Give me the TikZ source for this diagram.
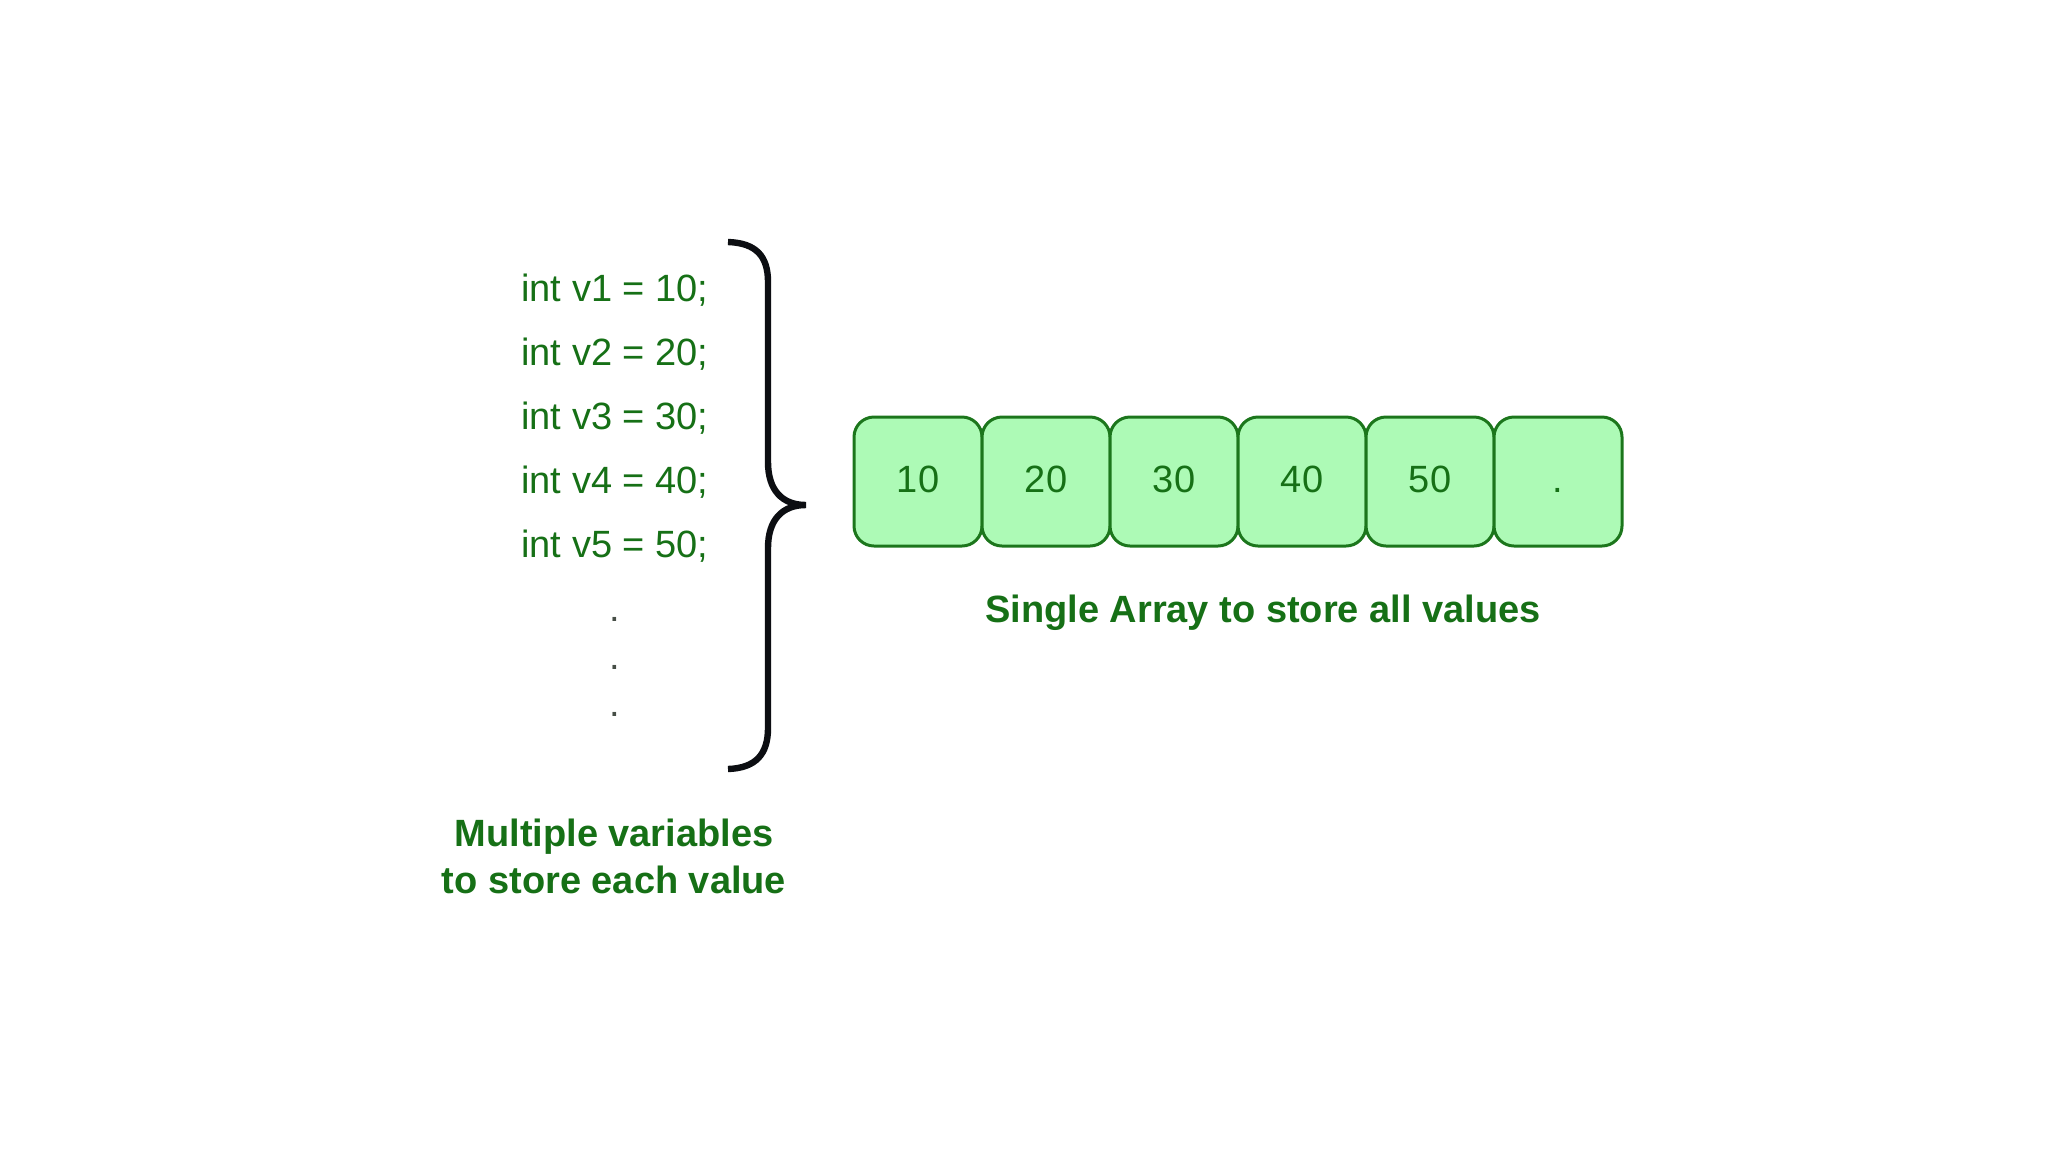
\documentclass[tikz,border=0pt]{standalone}
\usepackage{fontspec}
\setmainfont{Liberation Sans}
\usetikzlibrary{positioning}
\definecolor{ink}{RGB}{12,14,18}
\definecolor{codegreen}{RGB}{22,112,22}
\definecolor{cellfill}{RGB}{173,250,182}
\definecolor{celledge}{RGB}{28,118,28}
\definecolor{dotgray}{RGB}{70,78,70}

\begin{document}
\begin{tikzpicture}[x=0.5pt,y=-0.5pt,
    cell/.style={draw=celledge,fill=cellfill,line width=1.5pt,
      rounded corners=10pt,minimum width=64pt,minimum height=64.5pt,
      outer sep=0pt,inner sep=0pt,text=codegreen,
      text height=10.5pt,text depth=0pt,
      font=\fontsize{19}{23}\selectfont},
    vartext/.style={text=codegreen,inner sep=0pt,
      font=\fontsize{19}{23}\selectfont},
    caption/.style={text=codegreen,inner sep=0pt,align=center,
      font=\fontsize{19}{23.5}\selectfont\bfseries}]
  \useasboundingbox (0,0) rectangle (2048,1152);

  % separate variables
  \foreach \i in {1,...,5}{
    \node[vartext,anchor=base west] (v\i) at (521,{301+64*(\i-1)})
      {int v\i\ = \i0;};
  }
  \foreach \i/\y in {1/621,2/669,3/716}{
    \node[vartext,text=dotgray,anchor=base] (d\i) at (615,\y) {.};
  }
  % the brace
  \draw[ink,line width=3.2pt]
    (728,242) .. controls (756,243) and (768,256) .. (768,282)
    -- (768,462) .. controls (768,490) and (782,505) .. (806,505)
    .. controls (782,505) and (768,520) .. (768,548)
    -- (768,728) .. controls (768,754) and (756,768) .. (728,769);
  \node[caption] (varlabel) at (614,856)
    {Multiple variables\\to store each value};

  % one array
  \node[cell] (cell1) at (918,481.5) {10};
  \foreach \v [count=\i from 2, evaluate=\i as \p using int(\i-1)] in {20,30,40,50,.}{
    \node[cell,right=0pt of cell\p] (cell\i) {\v};
  }
  \node[caption] (arraylabel) at (1263,613)
    {Single Array to store all values};
\end{tikzpicture}
\end{document}
